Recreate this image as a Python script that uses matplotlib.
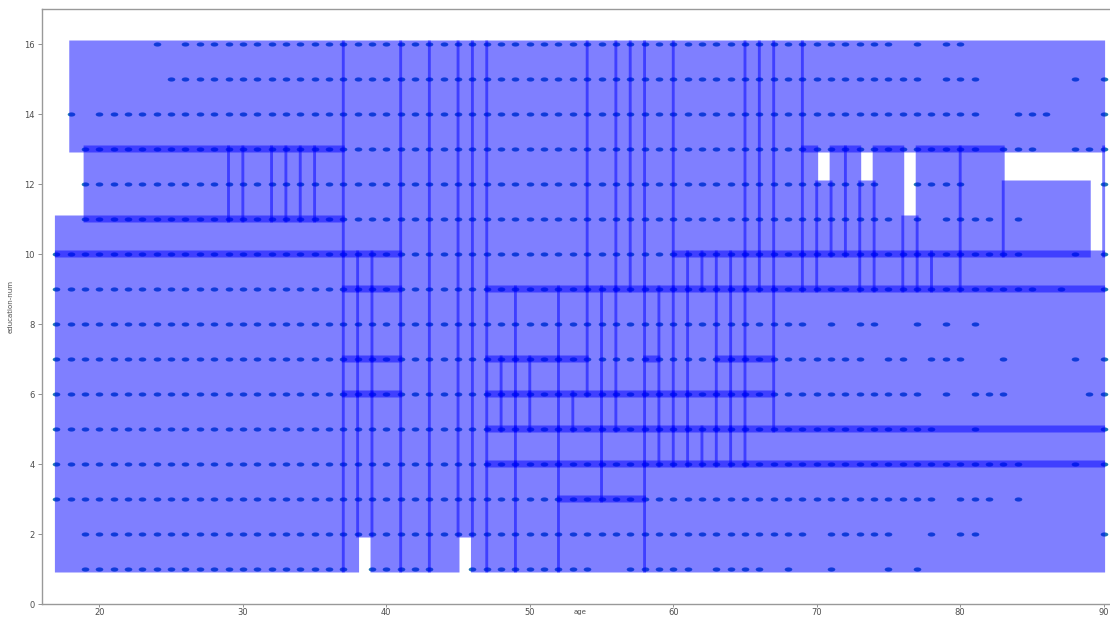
import matplotlib.pyplot as plt
from matplotlib import patches
import numpy as np

# ages present in the data for each education-num value
edu1 = [*range(19, 38), *range(39, 44), *range(46, 55), *range(57, 62), *range(63, 67), 68, 71, 75, 77]
edu2 = [*range(19, 70), *range(71, 76), 78, 80, 81, 90]
edu3 = [*range(17, 79), 80, 81, 82, 84]
edu4 = [*range(17, 85), 88, 90]
edu5 = [*range(17, 79), 81, 90]
edu6 = [*range(17, 78), 79, 81, 82, 83, 89, 90]
edu7 = [*range(17, 74), 75, 76, 78, 79, 80, 83, 88, 90]
edu8 = [*range(17, 70), 71, 73, 74, 77, 79, 81]
edu9 = [*range(17, 86), 87, 90]
edu10 = [*range(17, 85), 88, 90]
edu11 = [*range(19, 76), 77, 79, 80, 81, 82, 84]
edu12 = [*range(19, 75), 77, 78, 79, 80, 90]
edu13 = [*range(19, 82), 83, 84, 85, 88, 89, 90]
edu14 = [18, *range(20, 82), 84, 85, 86, 90]
edu15 = [*range(25, 78), 79, 80, 81, 88, 90]
edu16 = [24, *range(26, 76), 77, 79, 80]

# partitions (age_min, age_max, edu_min, edu_max)
left_cells = [(18, 37, 13, 16),
              (19, 29, 11, 13), (29, 30, 11, 13), (30, 32, 11, 13), (32, 33, 11, 13),
              (33, 34, 11, 13), (34, 35, 11, 13), (35, 37, 11, 13),
              (17, 37, 10, 11), (17, 37, 1, 10)]
mid_cells = [(37, 41, 10, 16),
             (37, 38, 9, 10), (38, 39, 9, 10), (39, 41, 9, 10),
             (37, 38, 7, 9), (38, 39, 7, 9), (39, 41, 7, 9),
             (37, 38, 6, 7), (38, 39, 6, 7), (39, 41, 6, 7),
             (37, 38, 1, 6), (38, 39, 2, 6), (39, 41, 1, 6),
             (41, 43, 1, 16), (43, 45, 1, 16), (45, 46, 2, 16), (46, 47, 1, 16)]
top_cells = [(47, 54, 9, 16), (54, 56, 9, 16), (56, 57, 9, 16), (57, 58, 9, 16), (58, 60, 9, 16),
             (60, 65, 10, 16), (65, 66, 10, 16), (66, 67, 10, 16), (67, 69, 10, 16), (69, 90, 13, 16)]
row9_cells = [(60, 61, 9, 10), (61, 62, 9, 10), (62, 63, 9, 10), (63, 64, 9, 10), (64, 65, 9, 10),
              (65, 66, 9, 10), (66, 67, 9, 10), (67, 69, 9, 10), (69, 70, 9, 10), (70, 73, 9, 10),
              (73, 74, 9, 10), (74, 76, 9, 10), (76, 77, 9, 10), (77, 78, 9, 10), (78, 80, 9, 10),
              (80, 90, 9, 10)]
old_cells = [(69, 70, 10, 13), (70, 71, 10, 12), (71, 72, 10, 13), (72, 73, 10, 13), (73, 74, 10, 12),
             (74, 76, 10, 13), (76, 77, 10, 11), (77, 80, 10, 13), (80, 83, 10, 13), (83, 89, 10, 12),
             (90, 90, 10, 13)]
low_a_cells = [(47, 49, 7, 9), (49, 52, 7, 9), (47, 48, 6, 7), (48, 49, 6, 7), (49, 50, 6, 7), (50, 52, 6, 7),
               (47, 48, 5, 6), (48, 49, 5, 6), (49, 50, 5, 6), (50, 52, 5, 6),
               (47, 49, 4, 5), (49, 52, 4, 5), (47, 49, 1, 4), (49, 52, 1, 4)]
low_b_cells = [(52, 54, 7, 9), (52, 54, 6, 7), (54, 55, 6, 9), (55, 56, 6, 9), (56, 58, 6, 9),
               (52, 53, 5, 6), (53, 55, 5, 6), (55, 56, 5, 6), (56, 58, 5, 6),
               (52, 55, 4, 5), (55, 58, 4, 5), (52, 55, 3, 4), (55, 58, 3, 4), (52, 58, 1, 3)]
low_c_cells = [(58, 59, 7, 9), (58, 59, 6, 7), (58, 59, 5, 6), (58, 59, 4, 5),
               (59, 60, 6, 9), (59, 60, 5, 6), (59, 60, 4, 5),
               (60, 61, 6, 9), (60, 61, 5, 6), (60, 61, 4, 5),
               (61, 63, 6, 9), (61, 63, 5, 6), (61, 62, 4, 5), (62, 63, 4, 5),
               (63, 64, 7, 9), (63, 64, 6, 7), (63, 64, 5, 6), (63, 64, 4, 5),
               (64, 65, 7, 9), (64, 65, 6, 7), (64, 65, 5, 6), (64, 65, 4, 5),
               (65, 67, 7, 9), (65, 67, 6, 7), (65, 67, 5, 6),
               (65, 90, 4, 5), (67, 90, 5, 9), (58, 90, 1, 4)]

rows = [edu1, edu2, edu3, edu4, edu5, edu6, edu7, edu8,
        edu9, edu10, edu11, edu12, edu13, edu14, edu15, edu16]
age = np.concatenate([np.array(r) for r in rows])
edu = np.concatenate([np.full(len(r), i + 1) for i, r in enumerate(rows)])

fig = plt.figure(figsize=(11.1, 6.19), dpi=100)
ax = fig.add_axes([42 / 1110, 15 / 619, 1076 / 1110, 595 / 619])

# squashed dots, like the stretched original
t = np.linspace(0, 2 * np.pi, 40)
ellipse = np.column_stack([np.cos(t), 0.55 * np.sin(t)])
ax.scatter(age, edu, s=30, marker=ellipse, color='#1f77b4', linewidths=0, zorder=1)

off = 0.1
for cells in [left_cells, mid_cells, top_cells, row9_cells, old_cells, low_a_cells, low_b_cells, low_c_cells]:
    for x0, x1, y0, y1 in cells:
        ax.add_patch(patches.Rectangle((x0 - off, y0 - off), x1 - x0 + 2 * off, y1 - y0 + 2 * off,
                                       facecolor='blue', edgecolor='none', snap=False,
                                       alpha=0.5, zorder=2))

ax.set_xlim(16, 91)
ax.set_ylim(0, 17)
ax.set_xticks(range(20, 91, 10))
ax.set_yticks(range(0, 17, 2))
for s in ax.spines.values():
    s.set_color('0.6')
    s.set_linewidth(1)
ax.tick_params(axis='x', length=2, width=0.6, color='0.5', labelsize=6, labelcolor='0.3', pad=1)
ax.tick_params(axis='y', length=3, width=0.6, color='0.5', labelsize=6, labelcolor='0.3', pad=2)
ax.set_xlabel('age', fontsize=5, color='0.3')
ax.xaxis.set_label_coords(0.5, -0.0085)
ax.set_ylabel('education-num', fontsize=5, color='0.3', labelpad=8)

fig.savefig('out.png', dpi=100)
